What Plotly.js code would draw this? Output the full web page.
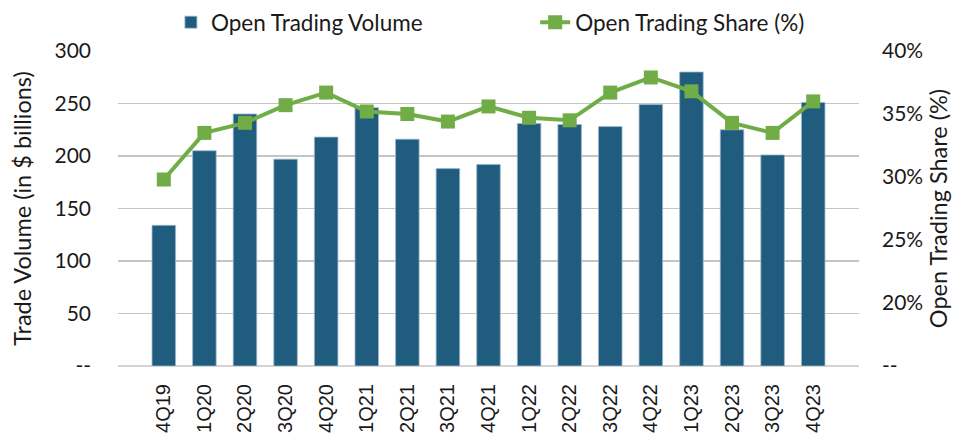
<!DOCTYPE html>
<html>
<head>
<meta charset="utf-8">
<script src="https://cdn.plot.ly/plotly-3.0.1.min.js"></script>
<style>html,body{margin:0;padding:0;background:#fff;}#chart{width:955px;height:433px;}</style>
</head>
<body>
<div id="chart"></div>
<script>
const quarters = ["4Q19","1Q20","2Q20","3Q20","4Q20","1Q21","2Q21","3Q21","4Q21","1Q22","2Q22","3Q22","4Q22","1Q23","2Q23","3Q23","4Q23"];
const volume = [134,205,240,197,218,246,216,188,192,231,230,228,249,280,225,201,251];
const sharePct = [29.8,33.5,34.3,35.7,36.7,35.2,35.0,34.4,35.6,34.7,34.5,36.7,37.9,36.8,34.3,33.5,36.0];
const leftTicks = [0,50,100,150,200,250,300];
const leftTickText = ["--","50","100","150","200","250","300"];
const rightTicks = [15,20,25,30,35,40];
const rightTickText = ["--","20%","25%","30%","35%","40%"];

const FONT = "Lato, 'Open Sans', sans-serif";
const traces = [
  {
    type: "bar", name: "Open Trading Volume", x: quarters, y: volume,
    marker: {color: "#1F5C7E", line: {color: "#9DB8CC", width: 0.8}},
    hoverinfo: "x+y", legend: "legend"
  },
  {
    type: "scatter", mode: "lines+markers", name: "Open Trading Share (%)",
    x: quarters, y: sharePct, yaxis: "y2", legend: "legend2",
    line: {color: "#71AD47", width: 4},
    marker: {symbol: "square", size: 14, color: "#71AD47"}
  }
];
const legendFont = {family: FONT, size: 22.5, color: "#1a1a1a"};
const layout = {
  width: 955, height: 433,
  margin: {l: 118, r: 96, t: 51, b: 67, autoexpand: false},
  paper_bgcolor: "#fff", plot_bgcolor: "#fff",
  font: {family: FONT, size: 21, color: "#1a1a1a"},
  bargap: 0.42,
  showlegend: true,
  legend: {orientation: "h", x: 0.0714, xanchor: "left", y: 1.022, yanchor: "bottom", font: legendFont},
  legend2: {orientation: "h", x: 0.563, xanchor: "left", y: 1.022, yanchor: "bottom", font: legendFont},
  xaxis: {
    type: "category", tickangle: -90, showgrid: false, zeroline: false,
    showline: false, ticks: "", ticklabelstandoff: 13,
    tickfont: {family: "'Liberation Sans', Arial, sans-serif", size: 20, color: "#1a1a1a"},
    automargin: false
  },
  yaxis: {
    range: [0, 300], tickvals: leftTicks, ticktext: leftTickText,
    showgrid: true, gridcolor: "#C4C4C4", gridwidth: 1.5, zeroline: true, zerolinecolor: "#D4D4D4", zerolinewidth: 2,
    ticks: "", ticklabelstandoff: 26, tickfont: {family: FONT, size: 21},
    title: {text: "Trade Volume (in $ billions)", font: {family: FONT, size: 23.5}, standoff: 16},
    automargin: false
  },
  yaxis2: {
    range: [15, 40], tickvals: rightTicks, ticktext: rightTickText,
    overlaying: "y", side: "right", showgrid: false, zeroline: false,
    ticks: "", ticklabelstandoff: 22, tickfont: {family: FONT, size: 21},
    title: {text: "Open Trading Share (%)", font: {family: FONT, size: 23.5}, standoff: 8},
    automargin: false
  }
};
Plotly.newPlot("chart", traces, layout, {displayModeBar: false, staticPlot: true});
</script>
</body>
</html>
